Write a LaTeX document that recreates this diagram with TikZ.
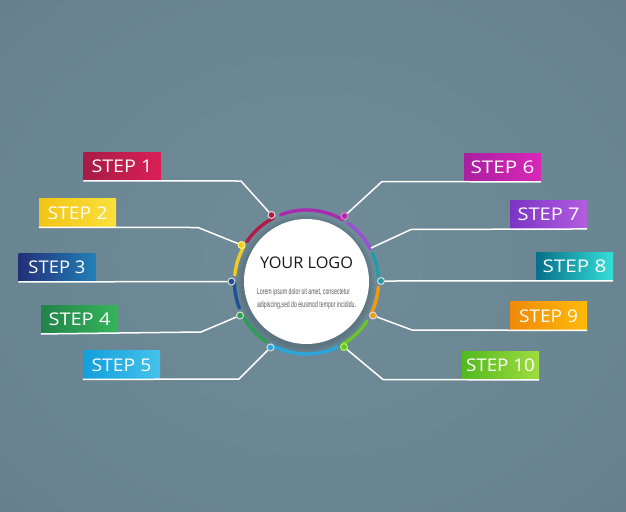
\documentclass[tikz,border=0pt]{standalone}
\usepackage{fontspec}
\usepackage{graphicx}
\usetikzlibrary{calc}
\setmainfont{Open Sans}
\newfontfamily\lorem{Liberation Sans}
\definecolor{bgin}{HTML}{6F8C98}
\definecolor{bgmid}{HTML}{6A8592}
\definecolor{bgedge}{HTML}{627884}
\definecolor{bgout}{HTML}{5B6C78}
\pgfdeclareradialshading{bgshade}{\pgfpoint{0bp}{0bp}}{color(0bp)=(bgin); color(25bp)=(bgmid); color(50bp)=(bgedge); color(72bp)=(bgout); color(100bp)=(bgout)}
\definecolor{ringA}{HTML}{B01C48}
\definecolor{ringB}{HTML}{F2CB22}
\definecolor{ringC}{HTML}{1F4F96}
\definecolor{ringD}{HTML}{2E9E55}
\definecolor{ringE}{HTML}{2AA6DA}
\definecolor{ringF}{HTML}{A92AB0}
\definecolor{ringG}{HTML}{9A4FD6}
\definecolor{ringH}{HTML}{1E9CA8}
\definecolor{ringI}{HTML}{F09A14}
\definecolor{ringJ}{HTML}{6CC52C}
\definecolor{aL}{HTML}{A61C45}\definecolor{aR}{HTML}{DA1F56}
\definecolor{bL}{HTML}{F2C515}\definecolor{bR}{HTML}{FBDF3C}
\definecolor{cL}{HTML}{232F78}\definecolor{cR}{HTML}{2180B8}
\definecolor{dL}{HTML}{23824A}\definecolor{dR}{HTML}{35B55C}
\definecolor{eL}{HTML}{129FDB}\definecolor{eR}{HTML}{45C2EC}
\definecolor{fL}{HTML}{A9209F}\definecolor{fR}{HTML}{D927B8}
\definecolor{gL}{HTML}{7A34C4}\definecolor{gR}{HTML}{B45DE0}
\definecolor{hL}{HTML}{076F88}\definecolor{hR}{HTML}{35DFD9}
\definecolor{iL}{HTML}{EF8A0A}\definecolor{iR}{HTML}{FFBA0A}
\definecolor{jL}{HTML}{52B91E}\definecolor{jR}{HTML}{A0DC40}
\newcommand{\steptxt}[2]{\resizebox{#1pt}{\height}{\fontsize{17.5}{19}\selectfont #2}}
\tikzset{
  stepbox/.style={rectangle,minimum width=77pt,minimum height=28.5pt,inner sep=0pt,text=white},
  conn/.style={draw=white,line width=1.5pt,line join=round},
  ringarc/.style={line width=3.4pt,line cap=round},
  ringdot/.style={circle,minimum size=7pt,inner sep=0pt,draw=white!85!black,line width=1pt},
}
\begin{document}
\begin{tikzpicture}[x=1pt,y=-1pt]
\useasboundingbox (0,0) rectangle (626,511);
\shade[shading=bgshade] (0,0) rectangle (626,511);
\coordinate (c) at (306.5,282);
% shadow of the disc
\foreach \r in {70,69,68,67,66,65,64}
  \fill[black,opacity=0.02] ($(c)+(-1,2)$) circle[radius=\r];
% ring
\foreach \a/\b/\col in {117/146/ringA,150.3/174.4/ringB,180/201.4/ringC,206.4/236.6/ringD,240.7/295.1/ringE,300/327/ringJ,333.6/356/ringI,360/383.6/ringH,387.4/414.9/ringG,420/471/ringF}
  \draw[ringarc,\col] ($(c)+(-\a:72)$) arc[start angle=-\a,end angle=-\b,radius=72];
% disc
\node[circle,fill=white,minimum size=125pt,inner sep=0pt] (disc) at (306.5,281.5) {};
\node (logo) at (306.5,262.5) {\resizebox{93pt}{\height}{\fontsize{16}{18}\selectfont\color{black!90}YOUR LOGO}};
\node[inner sep=0pt] (l1) at (303.5,292) {\resizebox{93pt}{\height}{\lorem\fontsize{8.5}{10}\selectfont\color{black!65}Lorem ipsum dolor sit amet, consectetur}};
\node[inner sep=0pt] (l2) at (306.5,305) {\resizebox{99pt}{\height}{\lorem\fontsize{8.5}{10}\selectfont\color{black!65}adipiscing,sed do eiusmod tempor incididu.}};
% steps
\node[stepbox,left color=aL,right color=aR] (s1) at (122,166.5) {\steptxt{61}{STEP 1}};
\node[stepbox,left color=bL,right color=bR] (s2) at (77.5,213) {\steptxt{60}{STEP 2}};
\node[stepbox,left color=cL,right color=cR] (s3) at (57,267.5) {\steptxt{57}{STEP 3}};
\node[stepbox,left color=dL,right color=dR] (s4) at (79.5,319.5) {\steptxt{62}{STEP 4}};
\node[stepbox,left color=eL,right color=eR] (s5) at (121.5,365) {\steptxt{60}{STEP 5}};
\node[stepbox,left color=fL,right color=fR] (s6) at (502.5,167.5) {\steptxt{64}{STEP 6}};
\node[stepbox,left color=gL,right color=gR] (s7) at (548.5,214.5) {\steptxt{62}{STEP 7}};
\node[stepbox,left color=hL,right color=hR] (s8) at (574.5,266.5) {\steptxt{64}{STEP 8}};
\node[stepbox,left color=iL,right color=iR] (s9) at (548.5,316) {\steptxt{59}{STEP 9}};
\node[stepbox,left color=jL,right color=jR] (s10) at (500.5,365.5) {\steptxt{69}{STEP 10}};
% dots
\node[ringdot,fill=ringA] (d1) at (271.5,215) {};
\node[ringdot,fill=ringB,draw=yellow!50!white] (d2) at (241.5,245) {};
\node[ringdot,fill=ringC] (d3) at (231.5,281.5) {};
\node[ringdot,fill=ringD] (d4) at (240,315.5) {};
\node[ringdot,fill=ringE] (d5) at (270.5,347.5) {};
\node[ringdot,fill=ringF,draw=magenta!50!white] (d6) at (344.5,216) {};
\coordinate (d7) at (371,248);
\node[ringdot,fill=ringH] (d8) at (381,281) {};
\node[ringdot,fill=ringI] (d9) at (373,315.5) {};
\node[ringdot,fill=ringJ,draw=green!50!yellow!70!white] (d10) at (344,347) {};
% bends
\coordinate (b1) at (241,181);
\coordinate (b2) at (198,227.5);
\coordinate (b4) at (201,332);
\coordinate (b5) at (239,379);
\coordinate (b6) at (382,181.5);
\coordinate (b7) at (411,229.5);
\coordinate (b9) at (412,330);
\coordinate (b10) at (383,379.5);
\draw[conn] (s1.south west) -- (b1) -- (d1);
\draw[conn] (s2.south west) -- (b2) -- (d2);
\draw[conn] (s3.south west) -- (d3);
\draw[conn] (s4.south west) -- (b4) -- (d4);
\draw[conn] (s5.south west) -- (b5) -- (d5);
\draw[conn] (s6.south east) -- (b6) -- (d6);
\draw[conn] (s7.south east) -- (b7) -- (d7);
\draw[conn] (s8.south east) -- (d8);
\draw[conn] (s9.south east) -- (b9) -- (d9);
\draw[conn] (s10.south east) -- (b10) -- (d10);
\end{tikzpicture}
\end{document}
